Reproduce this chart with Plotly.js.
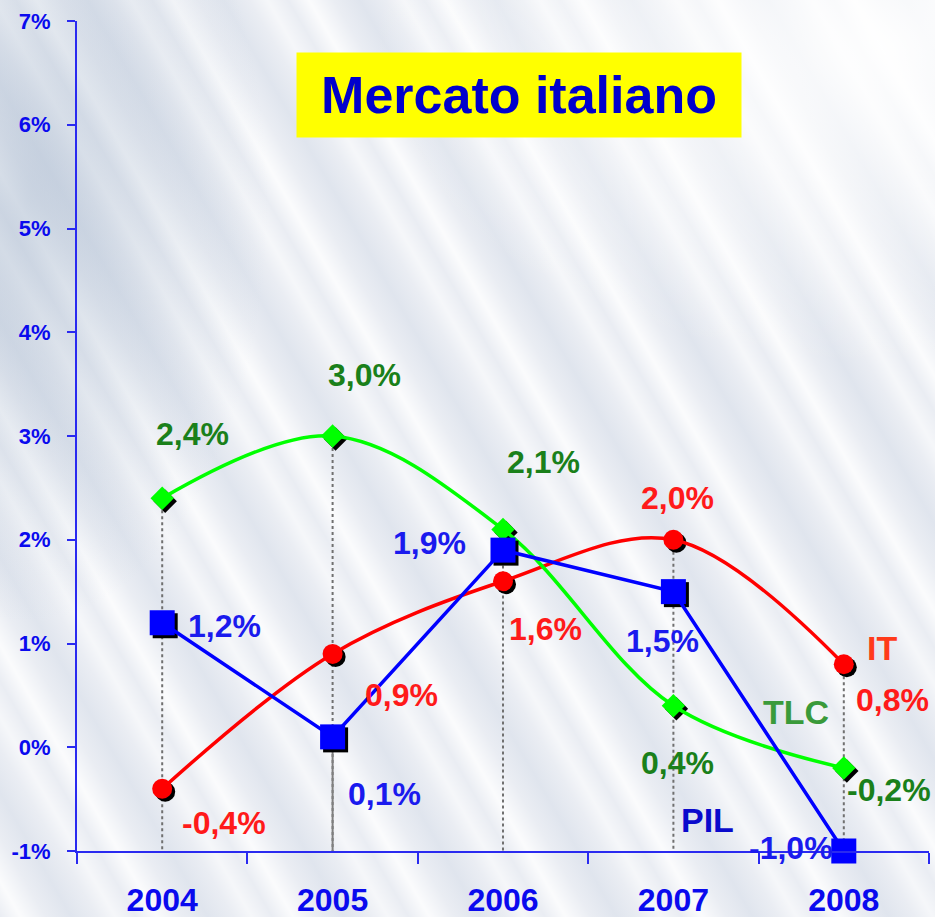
<!DOCTYPE html>
<html>
<head>
<meta charset="utf-8">
<script src="https://cdn.plot.ly/plotly-3.0.1.min.js"></script>
<style>
  html, body { margin: 0; padding: 0; }
  body {
    width: 935px; height: 917px; overflow: hidden;
    background:
      radial-gradient(ellipse 240px 420px at 3% 22%, rgba(165,182,204,0.5), rgba(165,182,204,0) 100%),
      radial-gradient(ellipse 520px 320px at 95% 5%, rgba(255,255,255,0.9), rgba(255,255,255,0) 100%),
      repeating-linear-gradient(60deg, rgba(255,255,255,0) 0px, rgba(255,255,255,0.8) 18px, rgba(255,255,255,0) 40px, rgba(205,214,228,0.35) 62px, rgba(255,255,255,0) 84px, rgba(255,255,255,0.55) 100px, rgba(255,255,255,0) 118px),
      #eaedf3;
  }
  #chart { width: 935px; height: 917px; }
</style>
</head>
<body>
<div id="chart"></div>
<script>
// ---- data ----
const years = ['2004', '2005', '2006', '2007', '2008'];
const TLC = [2.4, 3.0, 2.1, 0.4, -0.2];
const IT  = [-0.4, 0.9, 1.6, 2.0, 0.8];
const PIL = [1.2, 0.1, 1.9, 1.5, -1.0];
const seriesNames = ['TLC', 'IT', 'PIL'];
const yTicks = [-1, 0, 1, 2, 3, 4, 5, 6, 7];
const yTickText = ['-1%', '0%', '1%', '2%', '3%', '4%', '5%', '6%', '7%'];
const yMin = -1, yMax = 7;

// ---- styles / label placement (pixels) ----
const FONT = 'Liberation Sans, Arial, sans-serif';
const tlcOff = [[30, -64], [32, -61], [40, -67], [4, 57], [45, 22]];
const itOff  = [[62, 34], [69, 41], [42, 48], [4, -42], [49, 36]];
const pilOff = [[62, 3], [52, 57], [-74, -7], [-11, 49], [-53, -3]];
const shadowPx = 3;
const plotW = 852, plotH = 830;

const fmt = v => v.toFixed(1).replace('.', ',') + '%';
const idx = years.map((_, i) => i);
const dx = shadowPx * (5 / plotW);
const dy = shadowPx * ((yMax - yMin) / plotH);

const traces = [];

// drop lines (from highest value to the axis)
const dropX = [], dropY = [];
years.forEach((yr, i) => {
  const top = Math.max(TLC[i], IT[i], PIL[i]);
  dropX.push(yr, yr, null);
  dropY.push(top, yMin, null);
});
traces.push({
  x: dropX, y: dropY, xaxis: 'x', yaxis: 'y', mode: 'lines', hoverinfo: 'skip',
  line: { color: '#707070', width: 2, dash: 'dot' }, showlegend: false
});
// solid drop line below the PIL 2005 point
traces.push({
  x: [years[1], years[1]], y: [PIL[1], yMin], xaxis: 'x', yaxis: 'y', mode: 'lines',
  line: { color: '#7f7f7f', width: 2 }, showlegend: false, hoverinfo: 'skip'
});

function addSeries(vals, lineColor, symbol, size, shape) {
  traces.push({
    x: idx.map(i => i + dx), y: vals.map(v => v - dy), xaxis: 'x2', yaxis: 'y',
    mode: 'markers', marker: { symbol: symbol, size: size, color: '#000000' },
    showlegend: false, hoverinfo: 'skip', cliponaxis: false
  });
  traces.push({
    x: idx, y: vals, xaxis: 'x2', yaxis: 'y', mode: 'lines+markers',
    line: { color: lineColor, width: 3.5, shape: shape, smoothing: 1 },
    marker: { symbol: symbol, size: size, color: lineColor },
    showlegend: false, cliponaxis: false
  });
}
addSeries(IT, '#ff0000', 'circle', 20, 'spline');
addSeries(TLC, '#00ff00', 'diamond', 18, 'spline');
addSeries(PIL, '#0000ff', 'square', 25, 'linear');

const annotations = [];
function addLabels(vals, offs, color) {
  vals.forEach((v, i) => {
    annotations.push({
      x: i, y: v, xref: 'x2', yref: 'y', text: '<b>' + fmt(v) + '</b>', showarrow: false,
      xshift: offs[i][0], yshift: -offs[i][1],
      font: { family: FONT, size: 32, color: color }
    });
  });
}
addLabels(TLC, tlcOff, '#1a801a');
addLabels(IT, itOff, '#ff1a1a');
addLabels(PIL, pilOff, '#1a1aee');

// series name labels
annotations.push({ x: 4.224, y: 0.957, xref: 'x2', yref: 'y', text: '<b>' + seriesNames[1] + '</b>', showarrow: false,
  font: { family: FONT, size: 34, color: '#ff3a1a' } });
annotations.push({ x: 3.72, y: 0.34, xref: 'x2', yref: 'y', text: '<b>' + seriesNames[0] + '</b>', showarrow: false,
  font: { family: FONT, size: 34, color: '#3a9a3a' } });
annotations.push({ x: 3.203, y: -0.70, xref: 'x2', yref: 'y', text: '<b>' + seriesNames[2] + '</b>', showarrow: false,
  font: { family: FONT, size: 34, color: '#0a0acc' } });

// title box
annotations.push({
  x: 0.5188, y: 0.9108, xref: 'paper', yref: 'paper', xanchor: 'center', yanchor: 'middle',
  text: '<b>Mercato italiano</b>', showarrow: false, bgcolor: '#ffff00', width: 444, height: 84,
  borderpad: 0, font: { family: FONT, size: 52, color: '#0000cc' }
});

const layout = {
  width: 935, height: 917,
  margin: { l: 77, r: 6, t: 21, b: 66 },
  paper_bgcolor: 'rgba(0,0,0,0)', plot_bgcolor: 'rgba(0,0,0,0)',
  showlegend: false,
  xaxis: {
    type: 'category', categoryarray: years, range: [-0.5, 4.5],
    showline: true, linecolor: '#2a2af0', linewidth: 2,
    ticks: 'outside', tickson: 'boundaries', ticklen: 11, tickcolor: '#2a2af0', tickwidth: 2,
    showgrid: false, zeroline: false, ticklabelstandoff: 20,
    tickfont: { family: FONT, size: 32, color: '#0a0aee', weight: 'bold' }
  },
  xaxis2: {
    overlaying: 'x', range: [-0.5, 4.5], visible: false, showgrid: false, zeroline: false
  },
  yaxis: {
    type: 'linear', range: [yMin, yMax], tickmode: 'array', tickvals: yTicks, ticktext: yTickText,
    showline: true, linecolor: '#2a2af0', linewidth: 2,
    ticks: 'outside', ticklen: 8, tickcolor: '#2a2af0', tickwidth: 2,
    showgrid: false, zeroline: false, ticklabelstandoff: 12,
    tickfont: { family: FONT, size: 22, color: '#0a0aee', weight: 'bold' }
  },
  annotations: annotations
};

Plotly.newPlot('chart', traces, layout, { staticPlot: true, displayModeBar: false });
</script>
</body>
</html>
